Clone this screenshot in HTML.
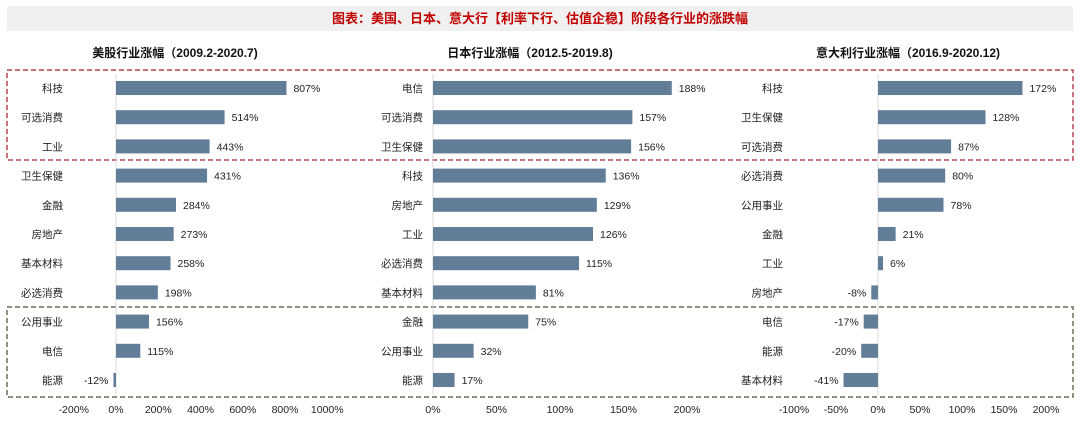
<!DOCTYPE html>
<html><head><meta charset="utf-8"><style>
body{margin:0;background:#fff;font-family:"Liberation Sans","Noto Sans CJK SC",sans-serif;}
svg text{font-family:"Liberation Sans","Noto Sans CJK SC",sans-serif;}
</style></head><body>
<svg id="c" width="1080" height="423" xmlns="http://www.w3.org/2000/svg">
<rect x="7" y="6" width="1066" height="25" fill="#f0f0f0"/>
<text x="540" y="23" text-anchor="middle" font-size="13" font-weight="bold" fill="#c00000">图表：美国、日本、意大行【利率下行、估值企稳】阶段各行业的涨跌幅</text>
<rect x="7" y="70" width="1066" height="90" fill="none" stroke="#b5454f" stroke-width="1.5" stroke-dasharray="5,3"/>
<rect x="7" y="307" width="1066" height="90" fill="none" stroke="#6b6b58" stroke-width="1.5" stroke-dasharray="5,3"/>
<g id="g"></g>
</svg>
<script>
const usCats=["科技","可选消费","工业","卫生保健","金融","房地产","基本材料","必选消费","公用事业","电信","能源"];
const usVals=[807,514,443,431,284,273,258,198,156,115,-12];
const usTicks=[-200,0,200,400,600,800,1000];
const jpCats=["电信","可选消费","卫生保健","科技","房地产","工业","必选消费","基本材料","金融","公用事业","能源"];
const jpVals=[188,157,156,136,129,126,115,81,75,32,17];
const jpTicks=[0,50,100,150,200];
const itCats=["科技","卫生保健","可选消费","必选消费","公用事业","金融","工业","房地产","电信","能源","基本材料"];
const itVals=[172,128,87,80,78,21,6,-8,-17,-20,-41];
const itTicks=[-100,-50,0,50,100,150,200];
const panels=[
 {name:"us",title:"美股行业涨幅（2009.2-2020.7)",tx:175,cats:usCats,vals:usVals,ticks:usTicks,zero:116,scale:169/800,labR:63},
 {name:"japan",title:"日本行业涨幅（2012.5-2019.8)",tx:530,cats:jpCats,vals:jpVals,ticks:jpTicks,zero:433,scale:254/200,labR:423},
 {name:"italy",title:"意大利行业涨幅（2016.9-2020.12)",tx:908,cats:itCats,vals:itVals,ticks:itTicks,zero:878,scale:168/200,labR:783}
];
const NS="http://www.w3.org/2000/svg";
const g=document.getElementById("g");
function mk(t,a,txt){const e=document.createElementNS(NS,t);for(const k in a)e.setAttribute(k,a[k]);if(txt!==undefined)e.textContent=txt;g.appendChild(e);return e;}
const rowY=i=>88+i*29.2;
panels.forEach(p=>{
 const x=v=>p.zero+v*p.scale;
 let e=mk("text",{x:p.tx,y:57,"text-anchor":"middle","font-size":12,"font-weight":"bold",fill:"#111"},p.title);
 
 
 e=mk("line",{x1:p.zero,x2:p.zero,y1:74,y2:395,stroke:"#d9d9d9","stroke-width":1});
 
 
 p.cats.forEach((c,i)=>{
  const v=p.vals[i],y=rowY(i);
  e=mk("text",{x:p.labR,y:y+4,"text-anchor":"end","font-size":10.5,fill:"#222"},c);
  
  
  const x0=Math.min(x(0),x(v)),w=Math.max(Math.abs(x(v)-x(0)),1.5);
  e=mk("rect",{x:x0,y:y-7,width:w,height:14,fill:"#627d98"});
  
  
  const lx=v>=0?x(v)+7:x(v)-5;
  e=mk("text",{x:lx,y:y+4,"text-anchor":v>=0?"start":"end","font-size":10.5,fill:"#222"},v+"%");
  
  
 });
 p.ticks.forEach(t=>{
  e=mk("text",{x:x(t),y:413,"text-anchor":"middle","font-size":10.5,fill:"#222"},t+"%");
  
  
 });
});
</script>
</body></html>
